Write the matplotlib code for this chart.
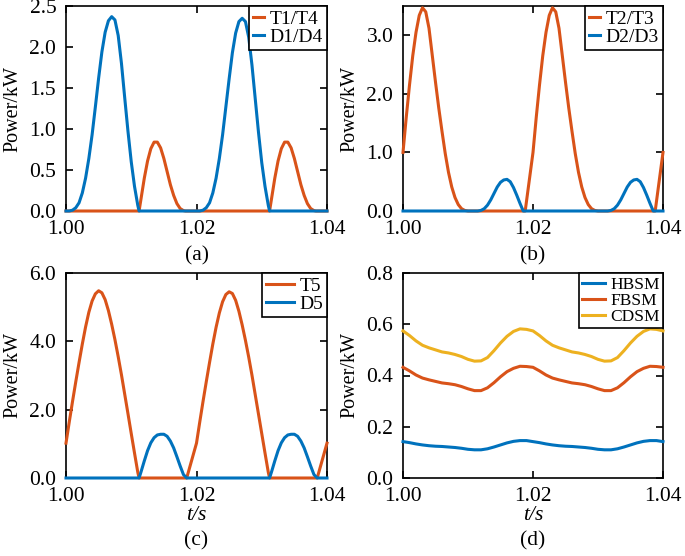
import matplotlib
matplotlib.use("Agg")
import matplotlib.pyplot as plt
from matplotlib.ticker import FormatStrFormatter, FixedLocator

plt.rcParams['font.family'] = ['Liberation Serif', 'DejaVu Serif']

BLUE = '#0072BD'
ORANGE = '#D95319'
YELLOW = '#EDB120'

# ---------------- panel (a) ----------------
a_t_T = [1.0000, 1.0112, 1.0115, 1.0120, 1.0125, 1.0130, 1.0135, 1.0140, 1.0145, 1.0150, 1.0155, 1.0160,
         1.0165, 1.0170, 1.0175, 1.0180, 1.0183,
         1.0312, 1.0315, 1.0320, 1.0325, 1.0330, 1.0335, 1.0340, 1.0345, 1.0350, 1.0355, 1.0360,
         1.0365, 1.0370, 1.0375, 1.0380, 1.0383, 1.0400]
a_v_T = [0, 0, 0.15, 0.40, 0.61, 0.76, 0.84, 0.84, 0.77, 0.64, 0.48, 0.32, 0.19, 0.09, 0.03, 0.005, 0,
         0, 0.15, 0.40, 0.61, 0.76, 0.84, 0.84, 0.77, 0.64, 0.48, 0.32, 0.19, 0.09, 0.03, 0.005, 0, 0]
a_t_D = [1.0000, 1.0005, 1.0010, 1.0015, 1.0020, 1.0025, 1.0030, 1.0035, 1.0040, 1.0045, 1.0050, 1.0055,
         1.0060, 1.0065, 1.0070, 1.0075, 1.0080, 1.0085, 1.0090, 1.0095, 1.0100, 1.0105, 1.0110, 1.0112,
         1.0205, 1.0210, 1.0215, 1.0220, 1.0225, 1.0230, 1.0235, 1.0240, 1.0245, 1.0250, 1.0255,
         1.0260, 1.0265, 1.0270, 1.0275, 1.0280, 1.0285, 1.0290, 1.0295, 1.0300, 1.0305, 1.0310, 1.0312,
         1.0400]
a_v_D = [0, 0, 0.01, 0.04, 0.10, 0.22, 0.40, 0.64, 0.93, 1.27, 1.62, 1.94, 2.18, 2.32, 2.37, 2.33, 2.14,
         1.80, 1.38, 0.97, 0.60, 0.30, 0.07, 0,
         0, 0.01, 0.04, 0.10, 0.22, 0.40, 0.64, 0.93, 1.27, 1.61, 1.93, 2.17, 2.31, 2.35, 2.31, 2.12,
         1.78, 1.37, 0.96, 0.59, 0.30, 0.07, 0,
         0]

# ---------------- panel (b) ----------------
b_t_T = [1.0000, 1.0005, 1.0010, 1.0015, 1.0020, 1.0025, 1.0030, 1.0035, 1.0040, 1.0045, 1.0050, 1.0055,
         1.0060, 1.0065, 1.0070, 1.0075, 1.0080, 1.0085, 1.0090, 1.0095, 1.0100,
         1.0188, 1.0200, 1.0205, 1.0210, 1.0215, 1.0220, 1.0225, 1.0230, 1.0235, 1.0240, 1.0245, 1.0250,
         1.0255, 1.0260, 1.0265, 1.0270, 1.0275, 1.0280, 1.0285, 1.0290, 1.0295, 1.0300,
         1.0388, 1.0400]
b_v_T = [1.00, 1.60, 2.15, 2.65, 3.05, 3.34, 3.47, 3.40, 3.12, 2.66, 2.20, 1.76, 1.36, 0.98, 0.66, 0.41,
         0.23, 0.11, 0.04, 0.01, 0,
         0, 1.00, 1.60, 2.15, 2.65, 3.05, 3.34, 3.47, 3.40, 3.12, 2.66, 2.20, 1.76, 1.36, 0.98, 0.66,
         0.41, 0.23, 0.11, 0.04, 0.01, 0,
         0, 1.00]
b_t_D = [1.0000, 1.0115, 1.0120, 1.0125, 1.0130, 1.0135, 1.0140, 1.0145, 1.0150, 1.0155, 1.0160, 1.0165,
         1.0170, 1.0175, 1.0180, 1.0185,
         1.0315, 1.0320, 1.0325, 1.0330, 1.0335, 1.0340, 1.0345, 1.0350, 1.0355, 1.0360, 1.0365,
         1.0370, 1.0375, 1.0380, 1.0385, 1.0400]
b_v_D = [0, 0, 0.01, 0.04, 0.10, 0.19, 0.30, 0.41, 0.49, 0.53, 0.54, 0.50, 0.40, 0.27, 0.13, 0,
         0, 0.01, 0.04, 0.10, 0.19, 0.30, 0.41, 0.49, 0.53, 0.54, 0.50, 0.40, 0.27, 0.13, 0, 0]

# ---------------- panel (c) ----------------
c_t_T = [1.0000, 1.0005, 1.0010, 1.0015, 1.0020, 1.0025, 1.0030, 1.0035, 1.0040, 1.0045, 1.0050, 1.0055,
         1.0060, 1.0065, 1.0070, 1.0075, 1.0080, 1.0085, 1.0090, 1.0095, 1.0100, 1.0105, 1.0110, 1.0112,
         1.0185, 1.0200, 1.0205, 1.0210, 1.0215, 1.0220, 1.0225, 1.0230, 1.0235, 1.0240, 1.0245, 1.0250,
         1.0255, 1.0260, 1.0265, 1.0270, 1.0275, 1.0280, 1.0285, 1.0290, 1.0295, 1.0300, 1.0305, 1.0310,
         1.0312, 1.0385, 1.0400]
c_v_T = [1.02, 1.64, 2.24, 2.82, 3.38, 3.92, 4.42, 4.85, 5.18, 5.39, 5.48, 5.42, 5.22, 4.90, 4.50, 4.05,
         3.55, 3.02, 2.45, 1.88, 1.30, 0.73, 0.17, 0,
         0, 1.02, 1.64, 2.24, 2.82, 3.38, 3.92, 4.41, 4.83, 5.16, 5.37, 5.45, 5.40, 5.20, 4.88, 4.48,
         4.03, 3.54, 3.01, 2.44, 1.87, 1.30, 0.73, 0.17, 0,
         0, 1.02]
c_t_D = [1.0000, 1.0112, 1.0115, 1.0120, 1.0125, 1.0130, 1.0135, 1.0140, 1.0145, 1.0150, 1.0155, 1.0160,
         1.0165, 1.0170, 1.0175, 1.0180, 1.0185,
         1.0312, 1.0315, 1.0320, 1.0325, 1.0330, 1.0335, 1.0340, 1.0345, 1.0350, 1.0355, 1.0360,
         1.0365, 1.0370, 1.0375, 1.0380, 1.0385, 1.0400]
c_v_D = [0, 0, 0.18, 0.50, 0.80, 1.03, 1.18, 1.26, 1.28, 1.28, 1.22, 1.08, 0.88, 0.62, 0.35, 0.10, 0,
         0, 0.18, 0.50, 0.80, 1.03, 1.18, 1.26, 1.28, 1.28, 1.22, 1.08, 0.88, 0.62, 0.35, 0.10, 0, 0]

# ---------------- panel (d) ----------------
d_t = [1.000, 1.001, 1.002, 1.003, 1.004, 1.005, 1.006, 1.007, 1.008, 1.009, 1.010,
       1.011, 1.012, 1.013, 1.014, 1.015, 1.016, 1.017, 1.018, 1.019, 1.020,
       1.021, 1.022, 1.023, 1.024, 1.025, 1.026, 1.027, 1.028, 1.029, 1.030,
       1.031, 1.032, 1.033, 1.034, 1.035, 1.036, 1.037, 1.038, 1.039, 1.040]
d_hbsm = [.142, .138, .133, .129, .126, .124, .123, .121, .119, .116, .112,
          .110, .110, .114, .121, .129, .137, .143, .146, .146, .142,
          .138, .133, .129, .126, .124, .123, .121, .119, .116, .112,
          .110, .110, .114, .121, .129, .137, .143, .146, .146, .142]
d_fbsm = [.432, .418, .402, .390, .383, .377, .371, .368, .364, .357, .348,
          .341, .341, .352, .372, .395, .415, .428, .436, .435, .432,
          .418, .402, .390, .383, .377, .371, .368, .364, .357, .348,
          .341, .341, .352, .372, .395, .415, .428, .436, .435, .432]
d_cdsm = [.574, .556, .535, .518, .508, .500, .492, .488, .482, .474, .463,
          .456, .457, .470, .497, .527, .553, .572, .582, .580, .574,
          .556, .535, .518, .508, .500, .492, .488, .482, .474, .463,
          .456, .457, .470, .497, .527, .553, .572, .582, .580, .574]

x_ticks = [1.00, 1.02, 1.04]

W, H = 685, 556
fig = plt.figure(figsize=(W / 100, H / 100), dpi=100)


def px_axes(l, t, r, b):
    return fig.add_axes([l / W, 1 - b / H, (r - l) / W, (b - t) / H])


LW = 2.2
TICK_FS = 15.5
LAB_FS = 14.5


def style(ax, ylim, yticks, yfmt):
    ax.set_xlim(1.00, 1.04)
    ax.set_ylim(*ylim)
    ax.xaxis.set_major_locator(FixedLocator(x_ticks))
    ax.xaxis.set_major_formatter(FormatStrFormatter('%.2f'))
    ax.yaxis.set_major_locator(FixedLocator(yticks))
    ax.yaxis.set_major_formatter(FormatStrFormatter(yfmt))
    ax.tick_params(direction='in', top=True, right=True, length=5, width=1.2,
                   labelsize=TICK_FS)
    ax.tick_params(axis='x', pad=6.5)
    ax.tick_params(axis='y', pad=7)
    for s in ax.spines.values():
        s.set_linewidth(1.2)
    ax.set_ylabel('Power/kW', fontsize=LAB_FS)
    ax.yaxis.set_label_coords(-0.168, 0.5)


def legend(ax, hl, fs, ls):
    leg = ax.legend(loc='upper right', borderaxespad=0, fancybox=False, framealpha=1,
                    edgecolor='black', fontsize=fs, handlelength=hl, handletextpad=0.3,
                    borderpad=0.2, labelspacing=ls)
    leg.get_frame().set_linewidth(1.2)
    leg.set_zorder(5)


axA = px_axes(66, 6, 327, 211)
axA.plot(a_t_T, a_v_T, color=ORANGE, lw=LW, label='T1/T4', clip_on=False, zorder=3)
axA.plot(a_t_D, a_v_D, color=BLUE, lw=LW, label='D1/D4', clip_on=False, zorder=3)
style(axA, (0, 2.5), [0, 0.5, 1.0, 1.5, 2.0, 2.5], '%.1f')
legend(axA, 0.55, 14, 0.05)

axB = px_axes(403, 6, 663, 211)
axB.plot(b_t_T, b_v_T, color=ORANGE, lw=LW, label='T2/T3', clip_on=False, zorder=3)
axB.plot(b_t_D, b_v_D, color=BLUE, lw=LW, label='D2/D3', clip_on=False, zorder=3)
style(axB, (0, 3.5), [0, 1, 2, 3], '%.1f')
legend(axB, 0.55, 14, 0.05)

axC = px_axes(66, 273, 327, 478)
axC.plot(c_t_T, c_v_T, color=ORANGE, lw=LW, label='T5', clip_on=False, zorder=3)
axC.plot(c_t_D, c_v_D, color=BLUE, lw=LW, label='D5', clip_on=False, zorder=3)
style(axC, (0, 6), [0, 2, 4, 6], '%.1f')
legend(axC, 1.4, 14, 0.05)

axD = px_axes(403, 273, 663, 478)
axD.plot(d_t, d_hbsm, color=BLUE, lw=LW, label='HBSM', clip_on=False, zorder=3)
axD.plot(d_t, d_fbsm, color=ORANGE, lw=LW, label='FBSM', clip_on=False, zorder=3)
axD.plot(d_t, d_cdsm, color=YELLOW, lw=LW, label='CDSM', clip_on=False, zorder=3)
style(axD, (0, 0.8), [0, 0.2, 0.4, 0.6, 0.8], '%.1f')
legend(axD, 1.3, 12.5, 0.0)

cxL = (66 + 327) / 2 / W
cxR = (403 + 663) / 2 / W
fig.text(cxL, 1 - 256 / H, '(a)', ha='center', va='center', fontsize=TICK_FS)
fig.text(cxR, 1 - 256 / H, '(b)', ha='center', va='center', fontsize=TICK_FS)
fig.text(cxL, 1 - 541 / H, '(c)', ha='center', va='center', fontsize=TICK_FS)
fig.text(cxR, 1 - 541 / H, '(d)', ha='center', va='center', fontsize=TICK_FS)
fig.text(cxL, 1 - 516 / H, 't/s', ha='center', va='center', fontsize=TICK_FS, style='italic')
fig.text(cxR, 1 - 516 / H, 't/s', ha='center', va='center', fontsize=TICK_FS, style='italic')

fig.savefig('out.png', dpi=100)
